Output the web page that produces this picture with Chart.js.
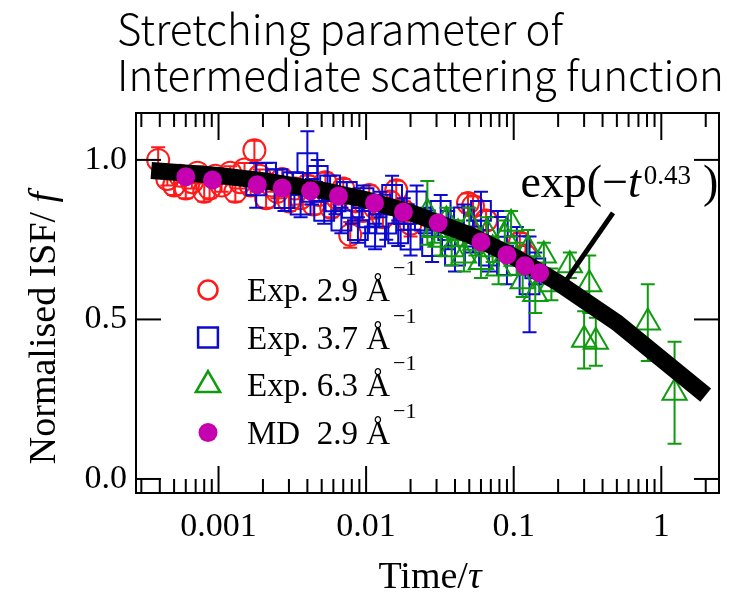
<!DOCTYPE html>
<html>
<head>
<meta charset="utf-8">
<script src="https://cdn.jsdelivr.net/npm/chart.js@4"></script>
<style>
    body { margin: 0; background: #fff; }
    canvas { display: block; }
</style>
</head>
<body>
<canvas id="chart" width="735" height="603"></canvas>
<script>
// Exp. 2.9 Å^-1 (time / tau, normalised ISF, error)
const red_t = [0.00039, 0.00045, 0.0005, 0.00055, 0.0006, 0.00066, 0.00072, 0.0008, 0.00087, 0.00095,
    0.00105, 0.0012, 0.0013, 0.0014, 0.0015, 0.00165, 0.00175, 0.0019, 0.0021, 0.0023,
    0.0025, 0.0027, 0.003, 0.0033, 0.0036, 0.004, 0.0044, 0.0048, 0.0053, 0.0058,
    0.0064, 0.007, 0.0078, 0.0085, 0.0095, 0.0105, 0.0115, 0.013, 0.0145, 0.016,
    0.018, 0.02, 0.049, 0.053, 0.065, 0.11, 0.12];
const red_y = [1.0, 0.94, 0.92, 0.95, 0.91, 0.93, 0.96, 0.9, 0.91, 0.95,
    0.92, 0.96, 0.9, 0.93, 0.97, 0.92, 1.03, 0.95, 0.88, 0.92,
    0.9, 0.94, 0.87, 0.91, 0.88, 0.92, 0.86, 0.89, 0.93, 0.85,
    0.88, 0.91, 0.765, 0.87, 0.84, 0.89, 0.85, 0.82, 0.87, 0.905,
    0.84, 0.8, 0.865, 0.855, 0.81, 0.74, 0.7];
const red_err = [0.04, 0.02, 0.03, 0.02, 0.03, 0.02, 0.02, 0.03, 0.03, 0.02,
    0.02, 0.02, 0.03, 0.02, 0.02, 0.03, 0.03, 0.02, 0.03, 0.02,
    0.02, 0.03, 0.03, 0.02, 0.02, 0.03, 0.03, 0.02, 0.03, 0.03,
    0.02, 0.03, 0.04, 0.03, 0.03, 0.03, 0.02, 0.03, 0.03, 0.03,
    0.03, 0.04, 0.03, 0.03, 0.03, 0.03, 0.03];

// Exp. 3.7 Å^-1
const blue_t = [0.0018, 0.0021, 0.0025, 0.0028, 0.0032, 0.0036, 0.004, 0.0043, 0.0047, 0.0052,
    0.0057, 0.0062, 0.0068, 0.0074, 0.008, 0.0088, 0.0096, 0.0105, 0.0115, 0.0125,
    0.0137, 0.015, 0.0165, 0.018, 0.02, 0.022, 0.025, 0.028, 0.032, 0.036,
    0.04, 0.046, 0.053, 0.06, 0.068, 0.078, 0.09, 0.105, 0.128, 0.14];
const blue_y = [0.92, 0.96, 0.94, 0.88, 0.93, 0.86, 0.99, 0.9, 0.95, 0.84,
    0.92, 0.87, 0.81, 0.9, 0.85, 0.78, 0.88, 0.82, 0.76, 0.86,
    0.8, 0.89, 0.77, 0.83, 0.75, 0.87, 0.81, 0.73, 0.84, 0.78,
    0.7, 0.82, 0.76, 0.84, 0.7, 0.79, 0.67, 0.73, 0.61, 0.66];
const blue_err = [0.07, 0.03, 0.03, 0.04, 0.03, 0.04, 0.1, 0.04, 0.05, 0.04,
    0.03, 0.04, 0.04, 0.03, 0.05, 0.04, 0.04, 0.05, 0.04, 0.04,
    0.05, 0.06, 0.04, 0.05, 0.05, 0.05, 0.04, 0.05, 0.05, 0.06,
    0.05, 0.04, 0.05, 0.06, 0.05, 0.05, 0.06, 0.06, 0.15, 0.05];

// Exp. 6.3 Å^-1
const green_t = [0.026, 0.029, 0.032, 0.035, 0.038, 0.042, 0.046, 0.05, 0.055, 0.06,
    0.066, 0.072, 0.079, 0.087, 0.096, 0.105, 0.115, 0.125, 0.14, 0.16,
    0.18, 0.24, 0.3, 0.325, 0.36, 0.81, 1.23];
const green_y = [0.834, 0.78, 0.75, 0.81, 0.72, 0.77, 0.7, 0.8, 0.74, 0.68,
    0.77, 0.72, 0.66, 0.76, 0.8, 0.69, 0.62, 0.72, 0.58, 0.7,
    0.61, 0.67, 0.436, 0.61, 0.43, 0.49, 0.27];
const green_err = [0.1, 0.04, 0.05, 0.04, 0.05, 0.04, 0.05, 0.05, 0.04, 0.05,
    0.05, 0.04, 0.05, 0.05, 0.04, 0.05, 0.05, 0.06, 0.06, 0.04,
    0.05, 0.04, 0.09, 0.09, 0.075, 0.12, 0.16];

// MD 2.9 Å^-1
const md_t = [0.0006, 0.00091, 0.00183, 0.0027, 0.0042, 0.0065, 0.0114, 0.0179, 0.0308, 0.06, 0.09, 0.119, 0.15];
const md_y = [0.947, 0.937, 0.922, 0.912, 0.903, 0.887, 0.865, 0.837, 0.803, 0.743, 0.702, 0.668, 0.646];

// stretched exponential exp(-t^0.43)
const fit_t = [0.00035, 0.001, 0.002, 0.005, 0.01, 0.02, 0.05, 0.1, 0.2, 0.5, 2.0];
const fit_y = [0.967, 0.951, 0.935, 0.905, 0.875, 0.835, 0.765, 0.697, 0.615, 0.49, 0.263];

const x_ticks = [0.001, 0.01, 0.1, 1];
const y_ticks = [0, 0.5, 1];

const SERIF = '"Liberation Serif", "Times New Roman", serif';
const RED = '#ff1a1a';
const BLUE = '#0a0ad0';
const GREEN = '#109a10';
const MAGENTA = '#c400b0';

/**
 * Zip two arrays into chart points.
 * @param {Array<Number>} xs - x values.
 * @param {Array<Number>} ys - y values.
 * @returns {Array<Object>} points.
 */
function points(xs, ys) {
    return xs.map((x, i) => ({ x: x, y: ys[i] }));
}

// vertical error bars with caps, drawn under the markers
const error_bars = {
    id: 'error_bars',
    beforeDatasetDraw(chart, args) {
        let ds = chart.data.datasets[args.index];
        if (!ds.errors) {
            return;
        }
        let { ctx, scales: { x, y } } = chart;
        ctx.save();
        ctx.strokeStyle = ds.borderColor;
        ctx.lineWidth = 2;
        ds.data.forEach((p, i) => {
            let px = x.getPixelForValue(p.x);
            let top = y.getPixelForValue(p.y + ds.errors[i]);
            let bot = y.getPixelForValue(p.y - ds.errors[i]);
            ctx.beginPath();
            ctx.moveTo(px, top);
            ctx.lineTo(px, bot);
            ctx.moveTo(px - 7, top);
            ctx.lineTo(px + 7, top);
            ctx.moveTo(px - 7, bot);
            ctx.lineTo(px + 7, bot);
            ctx.stroke();
        });
        ctx.restore();
    }
};

// box, inward ticks, titles, legend and the fit label
const decorations = {
    id: 'decorations',
    afterDraw(chart) {
        let { ctx, chartArea: a, scales: { x, y } } = chart;
        ctx.save();

        let line = (x0, y0, x1, y1) => {
            ctx.beginPath();
            ctx.moveTo(x0, y0);
            ctx.lineTo(x1, y1);
            ctx.stroke();
        };

        // frame
        ctx.strokeStyle = '#000';
        ctx.lineWidth = 2;
        ctx.strokeRect(a.left, a.top, a.width, a.height);

        // log ticks on top and bottom
        for (let e = -4; e <= 0; e++) {
            for (let m = 1; m <= 9; m++) {
                let v = m * Math.pow(10, e);
                if (v < x.min || v > x.max) {
                    continue;
                }
                let px = x.getPixelForValue(v);
                let len = m === 1 ? 27 : 14;
                line(px, a.bottom, px, a.bottom - len);
                line(px, a.top, px, a.top + len);
            }
        }
        y_ticks.forEach((v) => {
            let py = y.getPixelForValue(v);
            line(a.left, py, a.left + 25, py);
            line(a.right, py, a.right - 25, py);
        });

        // title
        ctx.fillStyle = '#000';
        ctx.textAlign = 'left';
        ctx.textBaseline = 'alphabetic';
        ctx.font = '300 42px "Noto Sans CJK JP", "Noto Sans", sans-serif';
        ctx.fillText('Stretching parameter of', 117, 45);
        ctx.fillText('Intermediate scattering function', 117, 91);

        // axis titles with italic symbols
        let mixed = (parts, cx, cy, angle) => {
            ctx.save();
            ctx.translate(cx, cy);
            ctx.rotate(angle);
            let widths = parts.map((p) => {
                ctx.font = p[1];
                return ctx.measureText(p[0]).width;
            });
            let total = widths.reduce((s, w) => s + w, 0);
            let px = -total / 2;
            ctx.textBaseline = 'middle';
            parts.forEach((p, i) => {
                ctx.font = p[1];
                ctx.fillText(p[0], px, 0);
                px += widths[i];
            });
            ctx.restore();
        };
        mixed([['Normalised ISF/ ', `38px ${SERIF}`], ['f', `italic 38px ${SERIF}`]], 45, 328, -Math.PI / 2);
        mixed([['Time/', `38px ${SERIF}`], ['τ', `italic 38px ${SERIF}`]], 430, 578, 0);

        // legend
        let rows = [
            ['Exp. 2.9 Å', chart.data.datasets[4]],
            ['Exp. 3.7 Å', chart.data.datasets[3]],
            ['Exp. 6.3 Å', chart.data.datasets[2]],
            ['MD  2.9 Å', chart.data.datasets[0]],
        ];
        rows.forEach((row, i) => {
            let cy = a.top + 177 + i * 47.5;
            let ds = row[1];
            let style = ds.pointStyle;
            let radius = style === 'circle' ? 9.5 : ds.pointRadius;
            ctx.strokeStyle = ds.borderColor;
            ctx.fillStyle = ds.backgroundColor;
            ctx.lineWidth = 2.5;
            Chart.helpers.drawPoint(ctx, {
                pointStyle: style,
                radius: radius,
                borderWidth: ds.borderWidth ? 2.5 : 0,
            }, a.left + 72, cy);
            ctx.fillStyle = '#000';
            ctx.font = `33px ${SERIF}`;
            ctx.textBaseline = 'alphabetic';
            ctx.fillText(row[0], a.left + 111, cy + 11);
            let w = ctx.measureText(row[0]).width;
            ctx.font = `22px ${SERIF}`;
            ctx.fillText('−1', a.left + 111 + w + 3, cy - 15);
        });

        // fit label and its pointer
        ctx.fillStyle = '#000';
        ctx.strokeStyle = '#000';
        let lx = x.getPixelForValue(0.111);
        let ly = y.getPixelForValue(0.884);
        ctx.font = `46px ${SERIF}`;
        ctx.fillText('exp(−', lx, ly);
        lx += ctx.measureText('exp(−').width;
        ctx.font = `italic 46px ${SERIF}`;
        ctx.fillText('t', lx, ly);
        lx += ctx.measureText('t').width + 3;
        ctx.font = `27px ${SERIF}`;
        ctx.fillText('0.43', lx, ly - 13);
        lx += ctx.measureText('0.43').width + 12;
        ctx.font = `46px ${SERIF}`;
        ctx.fillText(')', lx, ly);

        ctx.lineWidth = 5;
        line(x.getPixelForValue(0.471), y.getPixelForValue(0.834),
            x.getPixelForValue(0.22), y.getPixelForValue(0.614));

        ctx.restore();
    }
};

window.onload = () => {
    let el = document.querySelector('#chart');

    new Chart(el, {
        type: 'scatter',
        data: {
            datasets: [
                {
                    label: 'MD 2.9',
                    data: points(md_t, md_y),
                    pointStyle: 'circle',
                    pointRadius: 9.5,
                    backgroundColor: MAGENTA,
                    borderColor: MAGENTA,
                    borderWidth: 0,
                    order: 0,
                },
                {
                    label: 'fit',
                    type: 'line',
                    data: points(fit_t, fit_y),
                    borderColor: '#000',
                    borderWidth: 17,
                    borderCapStyle: 'butt',
                    borderJoinStyle: 'miter',
                    pointRadius: 0,
                    tension: 0,
                    fill: false,
                    order: 1,
                },
                {
                    label: 'Exp. 6.3',
                    data: points(green_t, green_y),
                    errors: green_err,
                    pointStyle: 'triangle',
                    pointRadius: 14,
                    borderWidth: 2,
                    borderColor: GREEN,
                    backgroundColor: 'rgba(0,0,0,0)',
                    order: 2,
                },
                {
                    label: 'Exp. 3.7',
                    data: points(blue_t, blue_y),
                    errors: blue_err,
                    pointStyle: 'rect',
                    pointRadius: 14,
                    borderWidth: 2,
                    borderColor: BLUE,
                    backgroundColor: 'rgba(0,0,0,0)',
                    order: 3,
                },
                {
                    label: 'Exp. 2.9',
                    data: points(red_t, red_y),
                    errors: red_err,
                    pointStyle: 'circle',
                    pointRadius: 11,
                    borderWidth: 2,
                    borderColor: RED,
                    backgroundColor: 'rgba(0,0,0,0)',
                    order: 4,
                },
            ]
        },
        options: {
            responsive: false,
            animation: false,
            devicePixelRatio: 1,
            layout: { padding: { top: 113, right: 13, left: 0, bottom: 0 } },
            plugins: {
                legend: { display: false },
                tooltip: { enabled: false },
            },
            scales: {
                x: {
                    type: 'logarithmic',
                    min: 0.000276,
                    max: 2.46,
                    grid: { display: false },
                    border: { display: false },
                    afterBuildTicks: (scale) => {
                        scale.ticks = x_ticks.map((v) => ({ value: v }));
                    },
                    afterFit: (scale) => {
                        scale.height = 110;
                    },
                    ticks: {
                        autoSkip: false,
                        maxRotation: 0,
                        padding: 6,
                        color: '#000',
                        font: { family: SERIF, size: 34 },
                        callback: (v) => String(v),
                    },
                },
                y: {
                    min: -0.044,
                    max: 1.147,
                    grid: { display: false },
                    border: { display: false },
                    afterBuildTicks: (scale) => {
                        scale.ticks = y_ticks.map((v) => ({ value: v }));
                    },
                    afterFit: (scale) => {
                        scale.width = 136;
                    },
                    ticks: {
                        padding: 1,
                        color: '#000',
                        font: { family: SERIF, size: 34 },
                        callback: (v) => v.toFixed(1),
                    },
                },
            },
        },
        plugins: [error_bars, decorations],
    });
};
</script>
</body>
</html>
